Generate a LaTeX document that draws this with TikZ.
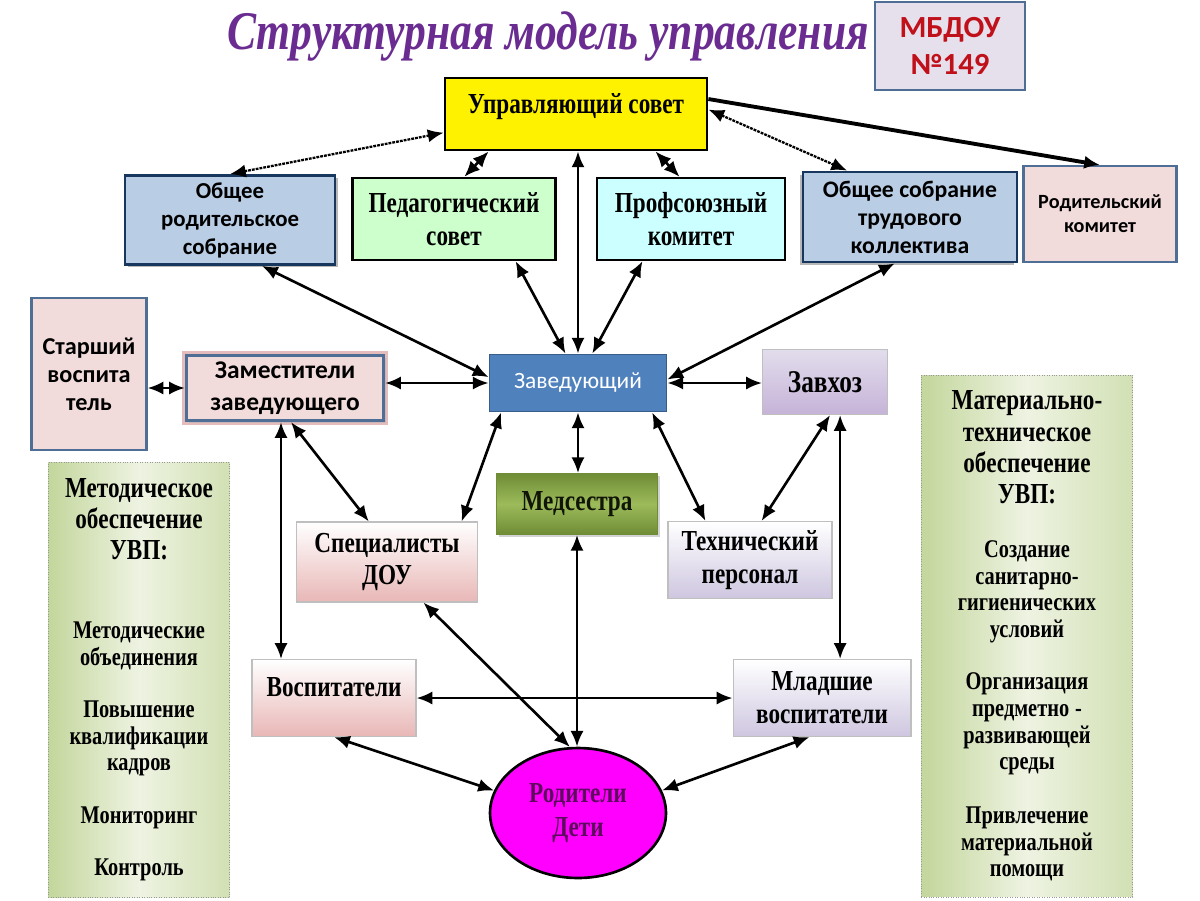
\documentclass[tikz,border=0pt]{standalone}
\usepackage{fontspec}
\setmainfont{Liberation Serif}
\newfontfamily\calib{Carlito}
\newfontfamily\narrow[FakeStretch=0.8]{Liberation Serif}
\usepackage{tikz}
\usetikzlibrary{shapes,arrows,arrows.meta}
\usetikzlibrary{calc}
\usetikzlibrary{positioning,shadows}

\definecolor{steel}{HTML}{4F6E96}
\definecolor{navy}{HTML}{17375E}
\definecolor{grayblue}{HTML}{B9CDE5}
\definecolor{pedgreen}{HTML}{CCFFCC}
\definecolor{profcyan}{HTML}{CCFFFF}
\definecolor{pinkbg}{HTML}{F2DCDB}
\definecolor{pinkframe}{HTML}{E3BCBB}
\definecolor{lavbg}{HTML}{E6E0EC}
\definecolor{mbred}{HTML}{C0101A}
\definecolor{zavblue}{HTML}{4F81BD}
\definecolor{zavborder}{HTML}{385D8A}
\definecolor{olive}{HTML}{6F8C36}
\definecolor{olivelight}{HTML}{9CBB5A}
\definecolor{pinkgrad}{HTML}{E8B7B6}
\definecolor{lavgrad}{HTML}{CEC6E0}
\definecolor{lavdark}{HTML}{C6B3D8}
\definecolor{panelgreen}{HTML}{C3D69B}
\definecolor{panellight}{HTML}{EEF3E2}
\definecolor{titlepurple}{HTML}{6A2C91}
\definecolor{ellipsefill}{HTML}{FF00FF}
\definecolor{ellipsetext}{HTML}{5E0A5E}

\begin{document}
\begin{tikzpicture}[x=0.02cm, y=-0.02cm,
  sans_box/.style={rectangle, align=center, inner sep=1pt, font=\calib\bfseries\fontsize{13}{15.9}\selectfont},
  serif_box/.style={rectangle, align=center, inner sep=1pt, font=\narrow\bfseries\fontsize{16.5}{18.7}\selectfont},
  shade_box/.style={serif_box, draw=black!25, line width=0.6pt},
  panel_box/.style={rectangle, draw=black!40, densely dotted, left color=panelgreen, right color=panelgreen!75!white, middle color=panellight, align=center, font=\narrow\bfseries},
  tip/.tip={Latex[length=9pt,width=7.5pt]},
  two_way/.style={tip-tip, line width=1.5pt},
  dot_way/.style={tip-tip, line width=1.3pt, dash pattern=on 1.6pt off 0.6pt},
  one_way/.style={-tip, line width=2.2pt}]

\fill[white] (0,0) rectangle (1200,900);
\useasboundingbox (0,0) rectangle (1200,900);

% top row
\node[font=\narrow\bfseries\itshape\fontsize{31}{33}\selectfont, text=titlepurple] (1) at (548,36) {Структурная модель управления};
\node[sans_box, draw=steel, line width=1.6pt, fill=lavbg, minimum width=3cm, minimum height=1.76cm, font=\calib\bfseries\fontsize{17.5}{21}\selectfont, text=mbred] (2) at (950,46) {МБДОУ\\№149};
\node[serif_box, draw, line width=1.6pt, fill=yellow, minimum width=5.24cm, minimum height=1.44cm, font=\narrow\bfseries\fontsize{16.5}{18}\selectfont, text depth=12pt] (3) at (576,114) {Управляющий совет};

\node[sans_box, draw=navy, line width=1.6pt, fill=grayblue, minimum width=4.2cm, minimum height=1.78cm, drop shadow={shadow xshift=1.5pt, shadow yshift=-1.5pt, fill=black!55}] (4) at (230,220) {Общее\\родительское\\собрание};
\node[serif_box, draw, line width=1.3pt, fill=pedgreen, minimum width=4.06cm, minimum height=1.64cm] (5) at (454,219) {Педагогический\\совет};
\node[serif_box, draw, line width=1.3pt, fill=profcyan, minimum width=3.76cm, minimum height=1.64cm] (6) at (691,219) {Профсоюзный\\комитет};
\node[sans_box, draw=navy, line width=1.6pt, fill=grayblue, minimum width=4.28cm, minimum height=1.8cm, font=\calib\bfseries\fontsize{13.5}{15.9}\selectfont, drop shadow={shadow xshift=-1.5pt, shadow yshift=-1.5pt, fill=black!55}] (7) at (910,217) {Общее собрание\\трудового\\коллектива};
\node[sans_box, draw=steel, line width=1.2pt, fill=pinkbg, minimum width=3.06cm, minimum height=1.92cm, font=\calib\bfseries\fontsize{11.5}{13.6}\selectfont] (8) at (1100,214) {Родительский\\комитет};

% middle row
\node[sans_box, draw=steel, line width=1.2pt, fill=pinkbg, minimum width=2.3cm, minimum height=3.04cm, font=\calib\bfseries\fontsize{13.8}{15.9}\selectfont] (9) at (89,374) {Старший\\воспита\\тель};
\node[sans_box, draw=steel, line width=1.8pt, fill=pinkbg, minimum width=3.94cm, minimum height=1.3cm, font=\calib\bfseries\fontsize{14.5}{18}\selectfont, preaction={draw=pinkframe, line width=5pt}, drop shadow={shadow xshift=1.5pt, shadow yshift=-1.5pt, fill=black!30}] (10) at (285,388) {Заместители\\заведующего};
\node[draw=zavborder, line width=1pt, fill=zavblue, text=white, font=\calib\fontsize{13.3}{15}\selectfont, minimum width=3.54cm, minimum height=1.14cm] (11) at (578,383) {Заведующий};
\node[shade_box, top color=lavgrad!60!white, bottom color=lavdark, minimum width=2.5cm, minimum height=1.3cm, font=\narrow\bfseries\fontsize{18}{20}\selectfont] (12) at (825,382) {Завхоз};

% lower rows
\node[serif_box, draw=olive, top color=olive, bottom color=olive, middle color=olivelight, minimum width=3.22cm, minimum height=1.22cm, text=black!85!olive, drop shadow={shadow xshift=1.5pt, shadow yshift=-1.5pt, fill=black!35}] (13) at (577,504) {Медсестра};
\node[shade_box, top color=white, bottom color=pinkgrad, minimum width=3.62cm, minimum height=1.6cm] (14) at (387,562) {Специалисты\\ДОУ};
\node[shade_box, top color=white, bottom color=lavgrad, minimum width=3.28cm, minimum height=1.54cm] (15) at (750,560) {Технический\\персонал};
\node[shade_box, top color=white, bottom color=pinkgrad, minimum width=3.28cm, minimum height=1.54cm, text depth=12pt] (16) at (334,698) {Воспитатели};
\node[shade_box, top color=white, bottom color=lavgrad, minimum width=3.56cm, minimum height=1.54cm] (17) at (822,698) {Младшие\\воспитатели};
\node[ellipse, draw, line width=1.5pt, fill=ellipsefill, minimum width=3.52cm, minimum height=2.6cm, align=center, text=ellipsetext, font=\narrow\bfseries\fontsize{16.5}{19}\selectfont] (18) at (578,813) {Родители\\Дети};

% side panels
\node[panel_box, minimum width=3.56cm, minimum height=8.7cm, text width=3.4cm] (19) at (139,680) {%
  \fontsize{16.5}{17.6}\selectfont Методическое\\обеспечение\\УВП:\par
  \vspace{30pt}
  \fontsize{14.5}{15}\selectfont Методические\\объединения\par
  \vspace{15pt}
  Повышение\\квалификации\\кадров\par
  \vspace{15pt}
  Мониторинг\par
  \vspace{15pt}
  Контроль\par};
\node[panel_box, minimum width=4.22cm, minimum height=10.44cm, text width=4cm] (20) at (1027,636) {%
  \fontsize{16.5}{17.9}\selectfont Материально-\\техническое\\обеспечение\\УВП:\par
  \vspace{15pt}
  \fontsize{14.5}{15.3}\selectfont Создание\\санитарно-\\гигиенических\\условий\par
  \vspace{14pt}
  Организация\\предметно -\\развивающей\\среды\par
  \vspace{15pt}
  Привлечение\\материальной\\помощи\par};

% foot points of the two long verticals
\coordinate (10b) at ($(10.south west)!0.48!(10.south east)$);
\coordinate (12b) at ($(12.south west)!0.62!(12.south east)$);

% connectors
\path[dot_way]
  ($(3.north west)!0.75!(3.south west)$) edge (4.north)
  ($(3.north east)!0.44!(3.south east)$) edge ($(7.north west)!0.21!(7.north east)$);
\draw[one_way] ($(3.north east)!0.3!(3.south east)$) -- (8.north);

\path[two_way]
  ($(3.south west)!0.17!(3.south east)$) edge ($(5.north west)!0.55!(5.north east)$)
  ($(3.south west)!0.8!(3.south east)$) edge ($(6.north west)!0.44!(6.north east)$)
  (11.north) edge (11.north |- 3.south)
  ($(4.south west)!0.65!(4.south east)$) edge ($(11.north west)!0.4!(11.south west)$)
  ($(5.south west)!0.8!(5.south east)$) edge ($(11.north west)!0.43!(11.north east)$)
  ($(6.south west)!0.245!(6.south east)$) edge ($(11.north west)!0.58!(11.north east)$)
  ($(7.south west)!0.43!(7.south east)$) edge ($(11.north east)!0.44!(11.south east)$)
  (10.west -| 9.east) edge (10.west)
  (11.west) edge (11.west -| 10.east)
  (11.east) edge (11.east -| 12.west)
  (11.south) edge (11.south |- 13.north)
  ($(11.south west)!0.07!(11.south east)$) edge ($(14.north west)!0.91!(14.north east)$)
  ($(11.south west)!0.915!(11.south east)$) edge ($(15.north west)!0.23!(15.north east)$)
  ($(10.south west)!0.53!(10.south east)$) edge ($(14.north west)!0.4!(14.north east)$)
  (10b) edge (10b |- 16.north)
  ($(12.south west)!0.54!(12.south east)$) edge ($(15.north west)!0.57!(15.north east)$)
  (12b) edge (12b |- 17.north)
  (13.south) edge (13.south |- 18.north)
  ($(14.south west)!0.7!(14.south east)$) edge (18.97)
  (16.east) edge (17.west)
  (16.south) edge (18.165)
  ($(17.south west)!0.43!(17.south east)$) edge (18.15);
\end{tikzpicture}
\end{document}
